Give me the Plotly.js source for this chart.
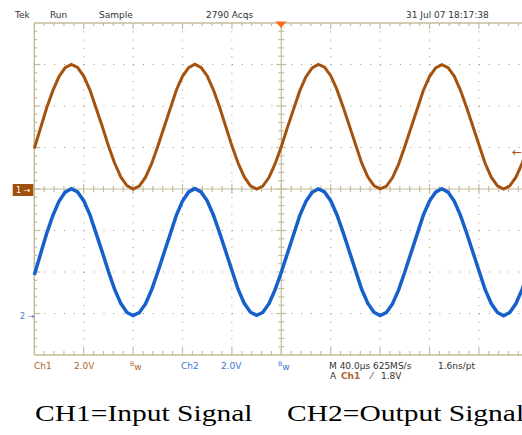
<!DOCTYPE html>
<html><head><meta charset="utf-8">
<script src="https://cdn.plot.ly/plotly-3.0.1.min.js"></script>
<style>html,body{margin:0;padding:0;background:#fff;overflow:hidden}</style>
</head><body><div id="chart" style="width:522px;height:435px"></div>
<script>
// ---- data ----
const timeUs = [0,5,10,15,20,25,30,35,40,45,50,55,60,65,70,75,80,85,90,95,
  100,105,110,115,120,125,130,135,140,145,150,155,160,165,170,175,180,185,190,195,
  200,205,210,215,220,225,230,235,240,245,250,255,260,265,270,275,280,285,290,295,
  300,305,310,315,320,325,330,335,340,345,350,355,360,365,370,375,380,385,390,395,400];
const ch1Volts = [1.95,2.95,3.90,4.74,5.42,5.85,6.00,5.86,5.44,4.78,3.95,3.02,2.08,1.25,0.58,0.16,0.00,0.14,0.56,1.22,
  2.06,2.99,3.92,4.76,5.43,5.85,6.01,5.86,5.45,4.78,3.95,3.01,2.08,1.25,0.58,0.15,0.00,0.14,0.55,1.22,
  2.04,2.97,3.90,4.74,5.41,5.84,6.00,5.87,5.46,4.80,3.97,3.04,2.10,1.27,0.59,0.16,0.01,0.13,0.54,1.20,
  2.05,2.98,3.91,4.75,5.42,5.84,5.99,5.85,5.44,4.77,3.94,3.01,2.07,1.24,0.57,0.15,0.00,0.15,0.57,1.24,2.06];
const ch2Volts = [1.85,2.90,3.86,4.72,5.41,5.85,6.01,5.86,5.44,4.76,3.91,2.97,2.03,1.17,0.49,0.05,-0.10,0.04,0.46,1.14,
  2.00,2.94,3.88,4.73,5.42,5.86,6.02,5.86,5.43,4.75,3.90,2.96,2.02,1.17,0.49,0.06,-0.09,0.05,0.47,1.15,
  1.99,2.93,3.88,4.73,5.41,5.84,6.00,5.86,5.44,4.76,3.92,2.98,2.04,1.18,0.50,0.06,-0.10,0.04,0.46,1.14,
  2.00,2.94,3.89,4.74,5.42,5.85,6.01,5.85,5.42,4.74,3.89,2.95,2.01,1.16,0.48,0.05,-0.11,0.05,0.48,1.16,2.01];
const channelNames = ["CH1", "CH2"];
const headerLabels = ["Tek", "Run", "Sample", "2790 Acqs", "31 Jul 07 18:17:38"];
const ch1Setting = ["Ch1", "2.0V"];
const ch2Setting = ["Ch2", "2.0V"];
const timebaseLabel = "M 40.0µs 625MS/s";
const resolutionLabel = "1.6ns/pt";
const triggerLabel = ["A", "Ch1", "1.8V"];
const captions = ["CH1=Input Signal", "CH2=Output Signal"];

// ---- geometry / style ----
const W = 522, H = 435, L = 32, T = 20, PW = 490, PH = 337;
const DIVX = 49.4, DIVY = 41.5, US_DIV = 40, V_DIV = 2;
const x0px = 34.3, ycpx = 189;
const xr = [-(x0px - L) / DIVX * US_DIV, (L + PW - x0px) / DIVX * US_DIV];
const yr = [-(T + PH - ycpx) / DIVY * V_DIV, (ycpx - T) / DIVY * V_DIV];
const CH2_GND_DIV = -3;
const yr2 = [yr[0] - CH2_GND_DIV * V_DIV, yr[1] - CH2_GND_DIV * V_DIV];
const BROWN = '#a4520e', BLUE = '#1660cc', GRAT = '#c4bc9e', DOT = '#9c9478';
const LBROWN = '#b0652a', LBLUE = '#3b78d2', GRAY = '#333333';
const PXV = V_DIV / DIVY, PXU = US_DIV / DIVX;

const shapes = [];
function seg(a, b, c, d, color, w, dash) {
  shapes.push({type: 'line', xref: 'x', yref: 'y', x0: a, y0: b, x1: c, y1: d, layer: 'below',
    line: {color: color, width: w, dash: dash || 'solid'}});
}
const XMAX = 10 * US_DIV, YMAX = 4 * V_DIV;
// dotted division grid
for (let d = 1; d < 10; d++) if (d !== 5) seg(d * US_DIV, YMAX, d * US_DIV, -YMAX, DOT, 1, '1px,7.3px');
for (let d = -3; d <= 3; d++) if (d !== 0) seg(0, d * V_DIV, XMAX, d * V_DIV, DOT, 1, '1px,8.88px');
// border + centre cross
seg(0, -YMAX, 0, YMAX, GRAT, 1.5);
seg(0, YMAX, XMAX, YMAX, GRAT, 1.5);
seg(0, -YMAX, XMAX, -YMAX, GRAT, 1.5);
seg(5 * US_DIV, -YMAX, 5 * US_DIV, YMAX, GRAT, 1.2);
seg(0, 0, XMAX, 0, GRAT, 1.2);
// minor ticks every 0.2 div
for (let i = 1; i < 50; i++) {
  const x = i * US_DIV / 5, maj = i % 5 === 0;
  seg(x, YMAX, x, YMAX - (maj ? 6 : 3) * PXV, GRAT, 1.2);
  seg(x, -YMAX, x, -YMAX + (maj ? 7 : 4) * PXV, GRAT, 1.2);
  seg(x, -(maj ? 5 : 3) * PXV, x, (maj ? 5 : 3) * PXV, GRAT, 1.2);
}
for (let j = 1; j < 40; j++) {
  const y = -YMAX + j * V_DIV / 5, maj = j % 5 === 0;
  seg(0, y, (maj ? 6 : 3) * PXU, y, GRAT, 1.2);
  seg(5 * US_DIV - (maj ? 5 : 3) * PXU, y, 5 * US_DIV + (maj ? 5 : 3) * PXU, y, GRAT, 1.2);
}
const px = x => (x - L) / PW, py = y => 1 - (y - T) / PH;
// channel 1 ground marker box
shapes.push({type: 'rect', xref: 'paper', yref: 'paper', x0: px(12.7), x1: px(33.3), y0: py(196), y1: py(184),
  fillcolor: '#a0500c', line: {width: 0}});
// trigger position triangle
shapes.push({type: 'path', xref: 'paper', yref: 'paper',
  path: `M ${px(275.5)} ${py(21.5)} L ${px(286.5)} ${py(21.5)} L ${px(281)} ${py(28)} Z`,
  fillcolor: '#ff6a1a', line: {width: 0}});

const annotations = [];
function txt(text, x, y, color, size, family, anchor) {
  annotations.push({xref: 'paper', yref: 'paper', x: px(x), y: py(y), xanchor: anchor || 'left', yanchor: 'middle',
    text: text, showarrow: false, borderpad: 0, borderwidth: 0,
    font: {color: color, size: size, family: family || 'DejaVu Sans'}});
}
const hx = [13.5, 50, 99, 206, 405.5];
headerLabels.forEach((s, i) => txt(s, hx[i], 15.5, GRAY, 9));
txt(ch1Setting[0], 33.5, 365.5, LBROWN, 9);
txt(ch1Setting[1], 73.5, 365.5, LBROWN, 9);
txt('<sup>B</sup>w', 130, 365.5, LBROWN, 9);
txt(ch2Setting[0], 181, 365.5, LBLUE, 9);
txt(ch2Setting[1], 221, 365.5, LBLUE, 9);
txt('<sup>B</sup>w', 278, 365.5, LBLUE, 9);
txt(timebaseLabel, 329, 365.5, GRAY, 9);
txt(resolutionLabel, 438, 365.5, GRAY, 9);
txt(triggerLabel[0], 329.5, 376, GRAY, 9);
txt('<b>' + triggerLabel[1] + '</b>', 341, 376, LBROWN, 9);
txt('⁄', 369, 376, GRAY, 9);
txt(triggerLabel[2], 380.5, 376, GRAY, 9);
txt('1 →', 23, 190, '#ffffff', 8, 'DejaVu Sans', 'center');
txt('2 →', 27, 316, LBLUE, 8, 'DejaVu Sans', 'center');
txt('←', 517, 152, BROWN, 12, 'DejaVu Sans', 'center');
txt(captions[0], 35, 413, '#000000', 24, 'Liberation Serif');
txt(captions[1], 287, 413, '#000000', 24, 'Liberation Serif');

const traces = [
  {x: timeUs, y: ch1Volts, name: channelNames[0], type: 'scatter', mode: 'lines', yaxis: 'y',
    line: {color: BROWN, width: 3}},
  {x: timeUs, y: ch2Volts, name: channelNames[1], type: 'scatter', mode: 'lines', yaxis: 'y2',
    line: {color: BLUE, width: 3.5}}
];
const layout = {
  width: W, height: H, showlegend: false, paper_bgcolor: '#ffffff', plot_bgcolor: 'rgba(0,0,0,0)',
  margin: {l: L, r: W - L - PW, t: T, b: H - T - PH, autoexpand: false},
  xaxis: {range: xr, visible: false, fixedrange: true},
  yaxis: {range: yr, visible: false, fixedrange: true},
  yaxis2: {range: yr2, overlaying: 'y', visible: false, fixedrange: true},
  shapes: shapes, annotations: annotations, hovermode: false
};
Plotly.newPlot('chart', traces, layout, {displayModeBar: false, staticPlot: true}).then(() => {
  // the caption in the reference is horizontally stretched
  document.querySelectorAll('text.annotation-text').forEach(t => {
    if (captions.indexOf(t.textContent) >= 0) {
      t.style.transformBox = 'fill-box';
      t.style.transformOrigin = 'left center';
      t.style.transform = 'scaleX(1.23)';
    }
  });
});
</script></body></html>
